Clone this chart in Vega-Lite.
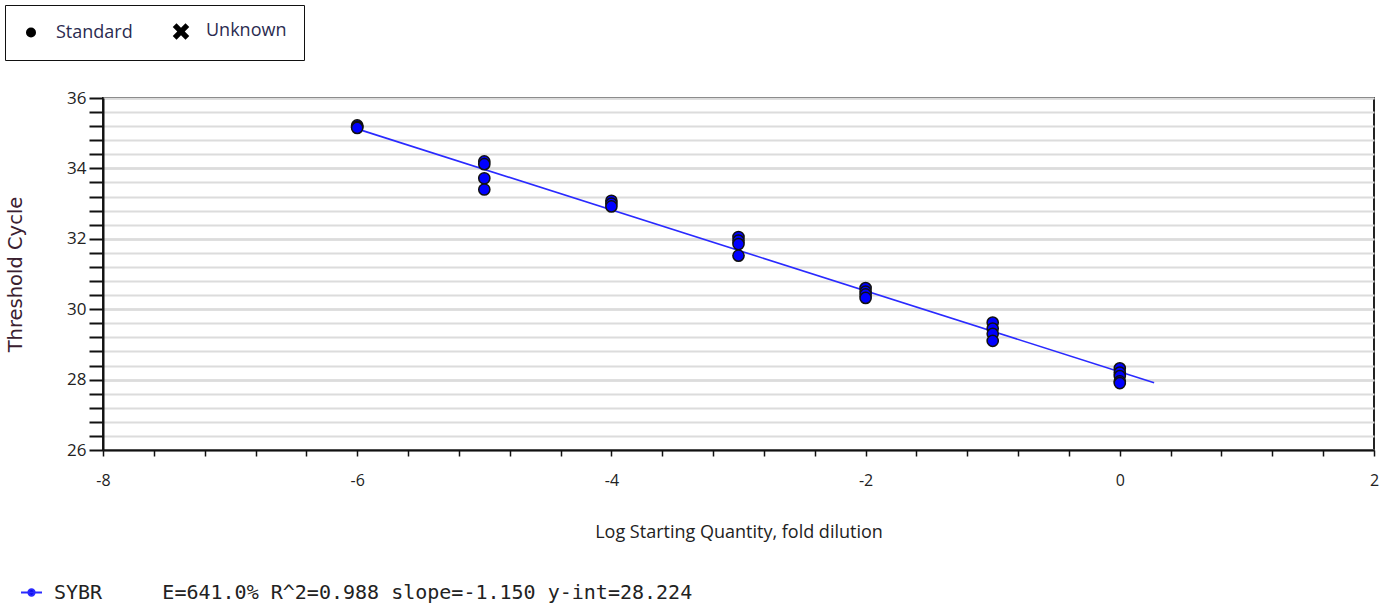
{
  "$schema": "https://vega.github.io/schema/vega-lite/v6.json",
  "width": 1271,
  "height": 352,
  "autosize": {"type": "none"},
  "padding": {"left": 103, "top": 98, "right": 13, "bottom": 164},
  "background": "white",
  "config": {
    "view": {"stroke": "#222", "strokeWidth": 2},
    "axis": {"labelFont": "Open Sans", "titleFont": "Open Sans", "labelColor": "#222", "titleColor": "#222"}
  },
  "datasets": {
    "pts": [
      {"log_qty": -6, "ct": 35.22, "type": "Standard"},
      {"log_qty": -6, "ct": 35.18, "type": "Standard"},
      {"log_qty": -6, "ct": 35.15, "type": "Standard"},
      {"log_qty": -5, "ct": 34.2, "type": "Standard"},
      {"log_qty": -5, "ct": 34.12, "type": "Standard"},
      {"log_qty": -5, "ct": 33.72, "type": "Standard"},
      {"log_qty": -5, "ct": 33.4, "type": "Standard"},
      {"log_qty": -4, "ct": 33.08, "type": "Standard"},
      {"log_qty": -4, "ct": 33.0, "type": "Standard"},
      {"log_qty": -4, "ct": 32.92, "type": "Standard"},
      {"log_qty": -3, "ct": 32.05, "type": "Standard"},
      {"log_qty": -3, "ct": 31.95, "type": "Standard"},
      {"log_qty": -3, "ct": 31.85, "type": "Standard"},
      {"log_qty": -3, "ct": 31.52, "type": "Standard"},
      {"log_qty": -2, "ct": 30.6, "type": "Standard"},
      {"log_qty": -2, "ct": 30.5, "type": "Standard"},
      {"log_qty": -2, "ct": 30.42, "type": "Standard"},
      {"log_qty": -2, "ct": 30.32, "type": "Standard"},
      {"log_qty": -1, "ct": 29.62, "type": "Standard"},
      {"log_qty": -1, "ct": 29.45, "type": "Standard"},
      {"log_qty": -1, "ct": 29.3, "type": "Standard"},
      {"log_qty": -1, "ct": 29.1, "type": "Standard"},
      {"log_qty": 0, "ct": 28.32, "type": "Standard"},
      {"log_qty": 0, "ct": 28.2, "type": "Standard"},
      {"log_qty": 0, "ct": 28.1, "type": "Standard"},
      {"log_qty": 0, "ct": 27.95, "type": "Standard"},
      {"log_qty": 0, "ct": 27.9, "type": "Standard"}
    ],
    "fit": [
      {"log_qty": -6.05, "ct": 35.18, "series": "SYBR"},
      {"log_qty": 0.27, "ct": 27.91, "series": "SYBR"}
    ]
  },
  "layer": [
    {
      "data": {"name": "fit"},
      "mark": {"type": "line", "strokeWidth": 1.6},
      "encoding": {
        "x": {"field": "log_qty", "type": "quantitative", "scale": {"domain": [-8, 2], "nice": false, "zero": false},
          "axis": {
            "values": [-8,-7.6,-7.2,-6.8,-6.4,-6,-5.6,-5.2,-4.8,-4.4,-4,-3.6,-3.2,-2.8,-2.4,-2,-1.6,-1.2,-0.8,-0.4,0,0.4,0.8,1.2,1.6,2],
            "labelExpr": "datum.value % 2 == 0 ? '' + datum.value : ''",
            "labelOverlap": false, "labelFlush": false, "labelBound": false,
            "grid": false, "domainColor": "#111", "domainWidth": 2, "tickColor": "#111", "tickWidth": 1.5, "tickSize": 6,
            "labelFontSize": 16, "labelPadding": 16,
            "title": "Log Starting Quantity, fold dilution", "titleFontSize": 18, "titleFontWeight": "normal",
            "titleY": 82, "titleBaseline": "middle"
          }},
        "y": {"field": "ct", "type": "quantitative", "scale": {"domain": [26, 36], "nice": false, "zero": false},
          "axis": {
            "orient": "right", "values": [26, 28, 30, 32, 34, 36], "grid": true, "gridColor": "#8c8c8c", "gridWidth": 1.5,
            "domain": false, "ticks": false, "labels": false, "title": null
          }},
        "color": {"field": "series", "type": "nominal", "scale": {"range": ["#2a2aff"]},
          "legend": {
            "orient": "none", "legendX": -83, "legendY": 483, "title": null, "padding": 0,
            "symbolType": "M-1,0L1,0M-0.3,0A0.3,0.3,0,1,1,0.3,0A0.3,0.3,0,1,1,-0.3,0Z",
            "symbolSize": 440, "symbolStrokeWidth": 2, "labelOffset": 11,
            "symbolFillColor": "#0000dd",
            "labelFont": "DejaVu Sans Mono", "labelFontSize": 20, "labelColor": "#222", "labelLimit": 900,
            "labelExpr": "datum.label + '\u00a0\u00a0\u00a0\u00a0\u00a0E=641.0%\u00a0R^2=0.988\u00a0slope=-1.150\u00a0y-int=28.224'",
            "encode": {"symbols": {"update": {"fill": {"value": "#0000dd"}, "stroke": {"value": "#2a2aff"}}}}
          }}
      }
    },
    {
      "data": {"name": "pts"},
      "mark": {"type": "point", "shape": "circle", "filled": true, "fill": "#0000ff", "stroke": "#111", "strokeWidth": 1.5, "opacity": 1, "size": 125},
      "encoding": {
        "x": {"field": "log_qty", "type": "quantitative"},
        "y": {"field": "ct", "type": "quantitative",
          "axis": {
            "orient": "left",
            "values": [26,26.4,26.8,27.2,27.6,28,28.4,28.8,29.2,29.6,30,30.4,30.8,31.2,31.6,32,32.4,32.8,33.2,33.6,34,34.4,34.8,35.2,35.6,36],
            "labelExpr": "datum.value % 2 == 0 ? '' + datum.value : ''",
            "labelOverlap": false, "labelFlush": false, "labelBound": false,
            "grid": true, "gridColor": "#dcdcdc", "gridWidth": 2,
            "domainColor": "#111", "domainWidth": 2, "tickColor": "#111", "tickWidth": 2, "tickSize": 14,
            "labelFontSize": 17, "labelPadding": 3,
            "title": "Threshold Cycle", "titleFont": "DejaVu Sans", "titleFontSize": 19.5, "titleFontWeight": "normal",
            "titleX": -88, "titleY": 176, "titleAlign": "center", "titleBaseline": "middle", "titleColor": "#3a2030"
          }}
      }
    },
    {
      "data": {"name": "pts"},
      "transform": [{"filter": "datum.ct < 0"}],
      "mark": {"type": "point", "filled": true, "fill": "black", "stroke": "black", "strokeWidth": 0, "opacity": 1},
      "encoding": {
        "x": {"field": "log_qty", "type": "quantitative"},
        "y": {"field": "ct", "type": "quantitative", "axis": null},
        "shape": {"field": "type", "type": "nominal",
          "scale": {"domain": ["Standard", "Unknown"], "range": ["circle", "M-1.65,-0.9L-0.9,-1.65L0,-0.75L0.9,-1.65L1.65,-0.9L0.75,0L1.65,0.9L0.9,1.65L0,0.75L-0.9,1.65L-1.65,0.9L-0.75,0Z"]},
          "legend": {
            "orient": "none", "legendX": -98, "legendY": -93, "direction": "horizontal", "title": null,
            "padding": 17, "strokeColor": "#111", "fillColor": "white",
            "symbolSize": 100, "columnPadding": 36, "labelOffset": 16,
            "symbolFillColor": "black", "symbolStrokeColor": "black",
            "labelFont": "Open Sans", "labelFontSize": 18, "labelColor": "#2b2b50",
            "encode": {
              "legend": {"update": {"strokeWidth": {"value": 2}}}
            }
          }}
      }
    }
  ],
  "resolve": {"axis": {"y": "independent"}}
}
